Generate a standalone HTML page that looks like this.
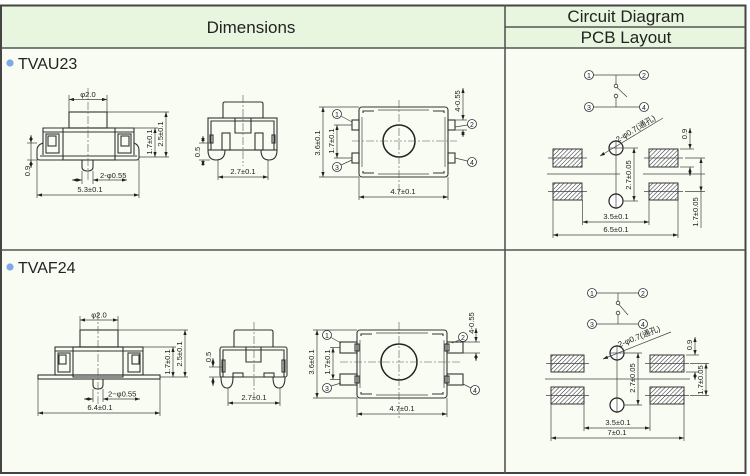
<!DOCTYPE html>
<html><head><meta charset="utf-8"><style>
html,body{margin:0;padding:0;background:#fff;}
svg{display:block;}
text{font-family:"Liberation Sans","Noto Sans CJK SC",sans-serif;fill:#222;}
.d{font-size:7.6px;}
.o{fill:none;stroke:#333;stroke-width:1.1;}
.t{fill:none;stroke:#444;stroke-width:0.7;}
.c{fill:none;stroke:#555;stroke-width:0.6;stroke-dasharray:8 2 2 2;}
.m{fill:none;stroke:#444;stroke-width:0.7;marker-start:url(#a);marker-end:url(#a);}
.n{fill:#fff;stroke:#333;stroke-width:0.8;}
.p{fill:url(#h);stroke:#333;stroke-width:1;}
</style></head><body>
<svg width="750" height="476" viewBox="0 0 750 476" xmlns="http://www.w3.org/2000/svg">
<defs>
<marker id="a" viewBox="0 0 6 4" refX="6" refY="2" markerWidth="5" markerHeight="3.4" markerUnits="userSpaceOnUse" orient="auto-start-reverse"><path d="M0,0L6,2L0,4z" fill="#222"/></marker>
<pattern id="h" width="3" height="3" patternUnits="userSpaceOnUse" patternTransform="rotate(45)"><rect width="3" height="3" fill="#fff"/><line x1="0" y1="0" x2="0" y2="3" stroke="#333" stroke-width="1.1"/></pattern>
</defs>
<rect width="750" height="476" fill="#fff"/>
<!-- table -->
<rect x="1" y="6" width="744" height="42" fill="#e9f6df"/>
<rect x="1" y="48" width="744" height="425" fill="#f8fcf2"/>
<rect x="1" y="5.5" width="744.5" height="467.5" fill="none" stroke="#444" stroke-width="2"/>
<line x1="505" y1="5" x2="505" y2="473" stroke="#555" stroke-width="1.6"/>
<line x1="1" y1="48" x2="745" y2="48" stroke="#555" stroke-width="1.6"/>
<line x1="505" y1="27" x2="745" y2="27" stroke="#555" stroke-width="1.4"/>
<line x1="1" y1="250" x2="745" y2="250" stroke="#555" stroke-width="1.6"/>
<text x="251" y="33" font-size="17" text-anchor="middle">Dimensions</text>
<text x="626" y="22" font-size="17" text-anchor="middle">Circuit Diagram</text>
<text x="626" y="43" font-size="17" text-anchor="middle">PCB Layout</text>
<circle cx="10" cy="63" r="3.6" fill="#7ea8e6"/>
<text x="18" y="69" font-size="16">TVAU23</text>
<circle cx="10" cy="267" r="3.6" fill="#7ea8e6"/>
<text x="18" y="273" font-size="16">TVAF24</text>

<!-- ===== TVAU23 side view ===== -->
<g>
<rect class="o" x="69" y="112" width="38" height="16"/>
<path class="o" d="M43,155V128H134V155"/>
<path class="o" d="M43,143Q37,145 37,150V158Q37,160 40,160H63"/>
<path class="o" d="M134,143Q139,145 139,150V158Q139,160 136,160H115"/>
<line class="o" x1="40" y1="156" x2="137" y2="156" stroke-width="1.6"/>
<rect class="o" x="63" y="128" width="52" height="32"/>
<line class="o" x1="43" y1="132" x2="134" y2="132"/>
<rect class="o" x="46" y="134" width="13" height="19"/>
<rect class="o" x="48" y="136" width="8" height="10" stroke-width="1.5"/>
<rect class="o" x="118" y="134" width="13" height="19"/>
<rect class="o" x="121" y="136" width="8" height="10" stroke-width="1.5"/>
<path class="o" d="M82,160V167Q82,171 87.5,171Q93,171 93,167V160"/>
<line class="c" x1="88" y1="88" x2="88" y2="182"/>
<!-- dims -->
<line class="t" x1="69" y1="95" x2="69" y2="112"/><line class="t" x1="107" y1="95" x2="107" y2="112"/>
<line class="m" x1="69" y1="99.5" x2="107" y2="99.5"/>
<text class="d" x="88" y="97" text-anchor="middle">φ2.0</text>
<line class="t" x1="107" y1="112" x2="169" y2="112"/>
<line class="t" x1="134" y1="128" x2="158" y2="128"/>
<line class="t" x1="139" y1="157" x2="169" y2="157"/>
<line class="m" x1="155" y1="128" x2="155" y2="157"/>
<line class="m" x1="166" y1="112" x2="166" y2="157"/>
<text class="d" transform="translate(152,142) rotate(-90)" text-anchor="middle">1.7±0.1</text>
<text class="d" transform="translate(163,134) rotate(-90)" text-anchor="middle">2.5±0.1</text>
<line class="t" x1="27" y1="143" x2="37" y2="143"/><line class="t" x1="27" y1="160" x2="37" y2="160"/>
<line class="m" x1="31" y1="135" x2="31" y2="143"/><line class="m" x1="31" y1="168" x2="31" y2="160"/>
<line class="t" x1="31" y1="143" x2="31" y2="160"/>
<text class="d" transform="translate(30,171) rotate(-90)" text-anchor="middle">0.9</text>
<line class="t" x1="82" y1="171" x2="82" y2="184"/><line class="t" x1="93" y1="171" x2="93" y2="184"/>
<line class="m" x1="72" y1="180" x2="82" y2="180"/><line class="m" x1="127" y1="180" x2="93" y2="180"/>
<text class="d" x="100" y="178">2-φ0.55</text>
<line class="t" x1="37" y1="160" x2="37" y2="198"/><line class="t" x1="139" y1="160" x2="139" y2="198"/>
<line class="m" x1="37" y1="195" x2="139" y2="195"/>
<text class="d" x="90" y="192" text-anchor="middle">5.3±0.1</text>
</g>

<!-- ===== TVAU23 front view ===== -->
<g>
<path class="o" d="M223,118V104Q223,102 225,102H261Q263,102 263,104V118"/>
<rect class="o" x="208" y="118" width="69" height="32" stroke-width="1.3"/>
<path class="o" d="M211,150V121H274V150"/>
<path class="o" d="M235,118V133H251V118"/>
<rect class="o" x="222" y="133" width="8" height="17"/>
<rect class="o" x="255" y="133" width="8" height="17"/>
<rect class="o" x="210" y="135" width="3" height="8"/>
<rect class="o" x="272" y="135" width="3" height="8"/>
<path class="o" d="M208,150Q208,160 216,160Q225,160 225,150"/>
<path class="o" d="M261,150Q261,160 269,160Q277,160 277,150"/>
<line class="c" x1="243" y1="95" x2="243" y2="166"/>
<line class="t" x1="199" y1="143" x2="210" y2="143"/><line class="t" x1="199" y1="160" x2="210" y2="160"/>
<line class="m" x1="203" y1="136" x2="203" y2="143"/><line class="m" x1="203" y1="166" x2="203" y2="160"/>
<text class="d" transform="translate(200,152) rotate(-90)" text-anchor="middle">0.5</text>
<line class="t" x1="218" y1="160" x2="218" y2="180"/><line class="t" x1="268" y1="160" x2="268" y2="180"/>
<line class="m" x1="218" y1="177" x2="268" y2="177"/>
<text class="d" x="243" y="174" text-anchor="middle">2.7±0.1</text>
</g>

<!-- ===== TVAU23 top view ===== -->
<g>
<rect class="o" x="359" y="107" width="89" height="70" rx="3"/>
<path class="o" d="M363,113V111H374 M444,113V111H433 M363,171V173H374 M444,171V173H433"/>
<line class="t" x1="378" y1="110" x2="429" y2="110"/><line class="t" x1="378" y1="174" x2="429" y2="174"/>
<line class="t" x1="362" y1="117" x2="362" y2="167"/><line class="t" x1="445" y1="117" x2="445" y2="167"/>
<circle cx="399" cy="141" r="16" fill="none" stroke="#222" stroke-width="1.5"/>
<line class="c" x1="399" y1="100" x2="399" y2="195"/>
<line class="c" x1="352" y1="141" x2="457" y2="141"/>
<rect class="o" x="352" y="120" width="7" height="10"/><rect class="o" x="352" y="153" width="7" height="10"/>
<rect class="o" x="448" y="120" width="7" height="10"/><rect class="o" x="448" y="153" width="7" height="10"/>
<circle class="n" cx="337" cy="114" r="4.5"/><text x="337" y="116.8" font-size="7" text-anchor="middle">1</text>
<line class="t" x1="341" y1="116" x2="352" y2="122"/>
<circle class="n" cx="337" cy="167" r="4.5"/><text x="337" y="169.8" font-size="7" text-anchor="middle">3</text>
<line class="t" x1="341" y1="165" x2="352" y2="160"/>
<circle class="n" cx="472" cy="124" r="4.5"/><text x="472" y="126.8" font-size="7" text-anchor="middle">2</text>
<line class="t" x1="467.5" y1="125" x2="455" y2="127"/>
<circle class="n" cx="472" cy="162" r="4.5"/><text x="472" y="164.8" font-size="7" text-anchor="middle">4</text>
<line class="t" x1="467.5" y1="161" x2="455" y2="158"/>
<line class="t" x1="319" y1="107" x2="359" y2="107"/><line class="t" x1="319" y1="177" x2="359" y2="177"/>
<line class="m" x1="323" y1="107" x2="323" y2="177"/>
<text class="d" transform="translate(320,143) rotate(-90)" text-anchor="middle">3.6±0.1</text>
<line class="t" x1="334" y1="125" x2="352" y2="125"/><line class="t" x1="334" y1="158" x2="352" y2="158"/>
<line class="m" x1="337" y1="125" x2="337" y2="158"/>
<text class="d" transform="translate(334,141) rotate(-90)" text-anchor="middle">1.7±0.1</text>
<line class="t" x1="455" y1="120" x2="467" y2="120"/><line class="t" x1="455" y1="130" x2="467" y2="130"/>
<line class="m" x1="463" y1="88" x2="463" y2="120"/><line class="m" x1="463" y1="137" x2="463" y2="130"/>
<text class="d" transform="translate(460,101) rotate(-90)" text-anchor="middle">4-0.55</text>
<line class="t" x1="359" y1="177" x2="359" y2="200"/><line class="t" x1="448" y1="177" x2="448" y2="200"/>
<line class="m" x1="359" y1="197" x2="448" y2="197"/>
<text class="d" x="403" y="194" text-anchor="middle">4.7±0.1</text>
</g>

<!-- ===== Circuit 1 ===== -->
<g>
<line class="t" x1="593.5" y1="75" x2="639.5" y2="75"/>
<line class="t" x1="593.5" y1="107" x2="639.5" y2="107"/>
<line class="t" x1="616" y1="75" x2="616" y2="84"/>
<circle class="n" cx="616" cy="86" r="1.8"/>
<line class="t" x1="617" y1="87.5" x2="627" y2="97"/>
<circle class="n" cx="616" cy="96" r="1.8"/>
<line class="t" x1="616" y1="98" x2="616" y2="107"/>
<circle class="n" cx="589" cy="75" r="4.5"/><text x="589" y="77.8" font-size="7" text-anchor="middle">1</text>
<circle class="n" cx="644" cy="75" r="4.5"/><text x="644" y="77.8" font-size="7" text-anchor="middle">2</text>
<circle class="n" cx="589" cy="107" r="4.5"/><text x="589" y="109.8" font-size="7" text-anchor="middle">3</text>
<circle class="n" cx="644" cy="107" r="4.5"/><text x="644" y="109.8" font-size="7" text-anchor="middle">4</text>
</g>
<!-- ===== PCB 1 ===== -->
<g>
<rect class="p" x="553" y="149" width="29" height="18"/>
<rect class="p" x="649" y="149" width="29" height="18"/>
<rect class="p" x="553" y="183" width="29" height="17"/>
<rect class="p" x="649" y="183" width="29" height="17"/>
<line class="t" x1="548" y1="158" x2="587" y2="158"/><line class="t" x1="644" y1="158" x2="683" y2="158"/>
<line class="t" x1="548" y1="191.5" x2="587" y2="191.5"/><line class="t" x1="644" y1="191.5" x2="683" y2="191.5"/>
<line class="t" x1="547" y1="174" x2="620" y2="174"/><line class="t" x1="643" y1="174" x2="705" y2="174"/>
<line class="t" x1="616" y1="140" x2="616" y2="209"/>
<circle cx="616" cy="148" r="7" fill="#fff" stroke="#222" stroke-width="1.2"/>
<circle cx="616" cy="201" r="7" fill="#fff" stroke="#222" stroke-width="1.2"/>
<line class="t" x1="616" y1="141" x2="616" y2="155"/><line class="t" x1="609" y1="148" x2="623" y2="148"/>
<line class="t" x1="616" y1="194" x2="616" y2="208"/>
<line class="t" x1="600" y1="156" x2="663" y2="118" marker-start="url(#a)"/>
<text x="637" y="131" font-size="8" transform="rotate(-31 637 131)" text-anchor="middle">2-φ0.7(通孔)</text>
<line class="t" x1="623" y1="148" x2="638" y2="148"/><line class="t" x1="623" y1="201" x2="638" y2="201"/>
<line class="m" x1="634" y1="148" x2="634" y2="201"/>
<text class="d" transform="translate(631,175) rotate(-90)" text-anchor="middle">2.7±0.05</text>
<line class="t" x1="680" y1="149" x2="694" y2="149"/><line class="t" x1="680" y1="167" x2="694" y2="167"/>
<line class="m" x1="690" y1="128" x2="690" y2="149"/><line class="m" x1="690" y1="176" x2="690" y2="167"/>
<text class="d" transform="translate(687,134) rotate(-90)" text-anchor="middle">0.9</text>
<line class="t" x1="685" y1="158" x2="705" y2="158"/><line class="t" x1="685" y1="191.5" x2="705" y2="191.5"/>
<line class="m" x1="701" y1="158" x2="701" y2="191.5"/>
<line class="t" x1="701" y1="191.5" x2="701" y2="228"/>
<text class="d" transform="translate(698,212) rotate(-90)" text-anchor="middle">1.7±0.05</text>
<line class="t" x1="582.5" y1="200" x2="582.5" y2="225"/><line class="t" x1="649" y1="200" x2="649" y2="225"/>
<line class="m" x1="582.5" y1="222" x2="649" y2="222"/>
<text class="d" x="616" y="219" text-anchor="middle">3.5±0.1</text>
<line class="t" x1="553" y1="200" x2="553" y2="238"/><line class="t" x1="678" y1="200" x2="678" y2="238"/>
<line class="m" x1="553" y1="235" x2="678" y2="235"/>
<text class="d" x="616" y="232" text-anchor="middle">6.5±0.1</text>
</g>

<!-- ===== TVAF24 side view ===== -->
<g>
<rect class="o" x="80" y="330" width="38" height="17"/>
<rect class="o" x="55" y="347" width="88" height="28"/>
<rect class="o" x="73" y="347" width="50" height="30"/>
<line class="o" x1="55" y1="351" x2="143" y2="351"/>
<rect class="o" x="58" y="353" width="12" height="19"/>
<rect class="o" x="59" y="355" width="7" height="9" stroke-width="1.5"/>
<rect class="o" x="128" y="353" width="12" height="19"/>
<rect class="o" x="132" y="355" width="7" height="9" stroke-width="1.5"/>
<rect class="o" x="38" y="375" width="122" height="4"/>
<path class="o" d="M93,379V385Q93,389 98,389Q103,389 103,385V379"/>
<line class="c" x1="98" y1="312" x2="98" y2="405"/>
<line class="t" x1="80" y1="316" x2="80" y2="330"/><line class="t" x1="118" y1="316" x2="118" y2="330"/>
<line class="m" x1="80" y1="320" x2="118" y2="320"/>
<text class="d" x="99" y="317.5" text-anchor="middle">φ2.0</text>
<line class="t" x1="118" y1="330" x2="188" y2="330"/>
<line class="t" x1="143" y1="347" x2="176" y2="347"/>
<line class="t" x1="160" y1="377" x2="188" y2="377"/>
<line class="m" x1="173" y1="347" x2="173" y2="377"/>
<line class="m" x1="185" y1="330" x2="185" y2="377"/>
<text class="d" transform="translate(170,362) rotate(-90)" text-anchor="middle">1.7±0.1</text>
<text class="d" transform="translate(182,354) rotate(-90)" text-anchor="middle">2.5±0.1</text>
<line class="t" x1="93" y1="389" x2="93" y2="402"/><line class="t" x1="103" y1="389" x2="103" y2="402"/>
<line class="m" x1="84" y1="399" x2="93" y2="399"/><line class="m" x1="140" y1="399" x2="103" y2="399"/>
<text class="d" x="108" y="396.5">2−φ0.55</text>
<line class="t" x1="38" y1="379" x2="38" y2="416"/><line class="t" x1="160" y1="379" x2="160" y2="416"/>
<line class="m" x1="38" y1="413" x2="160" y2="413"/>
<text class="d" x="100" y="410" text-anchor="middle">6.4±0.1</text>
</g>

<!-- ===== TVAF24 front view ===== -->
<g>
<path class="o" d="M234,347V332Q234,330 236,330H271Q273,330 273,332V347"/>
<rect class="o" x="220" y="347" width="67" height="30" rx="2" stroke-width="1.3"/>
<path class="o" d="M223,377V350H284V377"/>
<path class="o" d="M246,347V362H261V347"/>
<rect class="o" x="222" y="360" width="3" height="12"/>
<rect class="o" x="282" y="360" width="3" height="12"/>
<rect class="o" x="233" y="373" width="10" height="4"/>
<rect class="o" x="264" y="373" width="10" height="4"/>
<path class="o" d="M221,377Q221,388 227,388Q233,388 233,377"/>
<path class="o" d="M273,377Q273,388 279,388Q285,388 285,377"/>
<line class="c" x1="254" y1="322" x2="254" y2="396"/>
<line class="t" x1="209" y1="367" x2="222" y2="367"/><line class="t" x1="209" y1="377" x2="222" y2="377"/>
<line class="m" x1="213" y1="358" x2="213" y2="367"/><line class="m" x1="213" y1="386" x2="213" y2="377"/>
<text class="d" transform="translate(211,357) rotate(-90)" text-anchor="middle">0.5</text>
<line class="t" x1="228" y1="388" x2="228" y2="406"/><line class="t" x1="280" y1="388" x2="280" y2="406"/>
<line class="m" x1="228" y1="403" x2="280" y2="403"/>
<text class="d" x="254" y="400" text-anchor="middle">2.7±0.1</text>
</g>

<!-- ===== TVAF24 top view ===== -->
<g>
<rect class="o" x="357" y="330" width="90" height="68" rx="3"/>
<path class="o" d="M361,336V334H372 M443,336V334H432 M361,392V394H372 M443,392V394H432"/>
<line class="t" x1="376" y1="333" x2="428" y2="333"/><line class="t" x1="376" y1="395" x2="428" y2="395"/>
<line class="t" x1="360" y1="340" x2="360" y2="388"/><line class="t" x1="444" y1="340" x2="444" y2="388"/>
<circle cx="399" cy="362" r="18" fill="none" stroke="#222" stroke-width="1.5"/>
<line class="c" x1="399" y1="322" x2="399" y2="418"/>
<line class="c" x1="340" y1="362" x2="462" y2="362"/>
<rect class="o" x="340" y="342" width="17" height="11"/><rect class="o" x="340" y="374" width="17" height="11"/>
<rect class="o" x="447" y="342" width="16" height="11"/><rect class="o" x="447" y="374" width="16" height="11"/>
<rect class="o" x="355" y="344" width="4" height="7"/><rect class="o" x="355" y="376" width="4" height="7"/>
<rect class="o" x="445" y="344" width="4" height="7"/><rect class="o" x="445" y="376" width="4" height="7"/>
<circle class="n" cx="327" cy="335" r="4.5"/><text x="327" y="337.8" font-size="7" text-anchor="middle">1</text>
<line class="t" x1="331" y1="337.5" x2="341" y2="343"/>
<circle class="n" cx="327" cy="388" r="4.5"/><text x="327" y="390.8" font-size="7" text-anchor="middle">3</text>
<line class="t" x1="331" y1="386" x2="341" y2="383"/>
<circle class="n" cx="463" cy="337" r="4.5"/><text x="463" y="339.8" font-size="7" text-anchor="middle">2</text>
<line class="t" x1="459.5" y1="340" x2="452" y2="343"/>
<circle class="n" cx="475" cy="390" r="4.5"/><text x="475" y="392.8" font-size="7" text-anchor="middle">4</text>
<line class="t" x1="471" y1="388" x2="463" y2="384"/>
<line class="t" x1="313" y1="330" x2="357" y2="330"/><line class="t" x1="313" y1="398" x2="357" y2="398"/>
<line class="m" x1="317" y1="330" x2="317" y2="398"/>
<text class="d" transform="translate(314,362) rotate(-90)" text-anchor="middle">3.6±0.1</text>
<line class="t" x1="330" y1="347.5" x2="340" y2="347.5"/><line class="t" x1="330" y1="379.5" x2="340" y2="379.5"/>
<line class="m" x1="333" y1="347.5" x2="333" y2="379.5"/>
<text class="d" transform="translate(330,362) rotate(-90)" text-anchor="middle">1.7±0.1</text>
<line class="t" x1="463" y1="342" x2="480" y2="342"/><line class="t" x1="463" y1="353" x2="480" y2="353"/>
<line class="m" x1="476" y1="328" x2="476" y2="342"/><line class="m" x1="476" y1="361" x2="476" y2="353"/>
<text class="d" transform="translate(474,323) rotate(-90)" text-anchor="middle">4-0.55</text>
<line class="t" x1="357" y1="398" x2="357" y2="417"/><line class="t" x1="447" y1="398" x2="447" y2="417"/>
<line class="m" x1="357" y1="414" x2="447" y2="414"/>
<text class="d" x="402" y="411" text-anchor="middle">4.7±0.1</text>
</g>

<!-- ===== Circuit 2 ===== -->
<g>
<line class="t" x1="596.5" y1="293" x2="638.5" y2="293"/>
<line class="t" x1="596.5" y1="324" x2="638.5" y2="324"/>
<line class="t" x1="618" y1="293" x2="618" y2="301"/>
<circle class="n" cx="618" cy="303" r="1.8"/>
<line class="t" x1="619" y1="304.5" x2="628" y2="315"/>
<circle class="n" cx="618" cy="313" r="1.8"/>
<line class="t" x1="618" y1="315" x2="618" y2="324"/>
<circle class="n" cx="592" cy="293" r="4.5"/><text x="592" y="295.8" font-size="7" text-anchor="middle">1</text>
<circle class="n" cx="643" cy="293" r="4.5"/><text x="643" y="295.8" font-size="7" text-anchor="middle">2</text>
<circle class="n" cx="592" cy="324" r="4.5"/><text x="592" y="326.8" font-size="7" text-anchor="middle">3</text>
<circle class="n" cx="643" cy="324" r="4.5"/><text x="643" y="326.8" font-size="7" text-anchor="middle">4</text>
</g>
<!-- ===== PCB 2 ===== -->
<g>
<rect class="p" x="551" y="355" width="33" height="17"/>
<rect class="p" x="650" y="355" width="34" height="17"/>
<rect class="p" x="551" y="387" width="33" height="17"/>
<rect class="p" x="650" y="387" width="34" height="17"/>
<line class="t" x1="546" y1="363.5" x2="589" y2="363.5"/><line class="t" x1="645" y1="363.5" x2="689" y2="363.5"/>
<line class="t" x1="546" y1="395.5" x2="589" y2="395.5"/><line class="t" x1="645" y1="395.5" x2="689" y2="395.5"/>
<line class="t" x1="545" y1="379" x2="690" y2="379"/>
<line class="t" x1="617" y1="345" x2="617" y2="413"/>
<circle cx="617" cy="353" r="7" fill="#fff" stroke="#222" stroke-width="1.2"/>
<circle cx="617" cy="405" r="7" fill="#fff" stroke="#222" stroke-width="1.2"/>
<line class="t" x1="617" y1="346" x2="617" y2="360"/><line class="t" x1="610" y1="353" x2="624" y2="353"/>
<line class="t" x1="617" y1="398" x2="617" y2="412"/>
<line class="t" x1="603" y1="359" x2="671" y2="332" marker-start="url(#a)"/>
<text x="640" y="339" font-size="8" transform="rotate(-22 640 339)" text-anchor="middle">2-φ0.7(通孔)</text>
<line class="t" x1="624" y1="353" x2="642" y2="353"/><line class="t" x1="624" y1="405" x2="642" y2="405"/>
<line class="m" x1="638" y1="353" x2="638" y2="405"/>
<text class="d" transform="translate(635,378) rotate(-90)" text-anchor="middle">2.7±0.05</text>
<line class="t" x1="686" y1="355" x2="699" y2="355"/><line class="t" x1="686" y1="372" x2="699" y2="372"/>
<line class="m" x1="695" y1="337" x2="695" y2="355"/><line class="m" x1="695" y1="380" x2="695" y2="372"/>
<text class="d" transform="translate(692,345) rotate(-90)" text-anchor="middle">0.9</text>
<line class="t" x1="690" y1="363.5" x2="709" y2="363.5"/><line class="t" x1="690" y1="395.5" x2="709" y2="395.5"/>
<line class="m" x1="706" y1="363.5" x2="706" y2="395.5"/>
<text class="d" transform="translate(703,380) rotate(-90)" text-anchor="middle">1.7±0.05</text>
<line class="t" x1="584" y1="404" x2="584" y2="431"/><line class="t" x1="650" y1="404" x2="650" y2="431"/>
<line class="m" x1="584" y1="428" x2="650" y2="428"/>
<text class="d" x="618" y="425" text-anchor="middle">3.5±0.1</text>
<line class="t" x1="551" y1="404" x2="551" y2="441"/><line class="t" x1="684" y1="404" x2="684" y2="441"/>
<line class="m" x1="551" y1="438" x2="684" y2="438"/>
<text class="d" x="617" y="435" text-anchor="middle">7±0.1</text>
</g>
</svg>
</body></html>
